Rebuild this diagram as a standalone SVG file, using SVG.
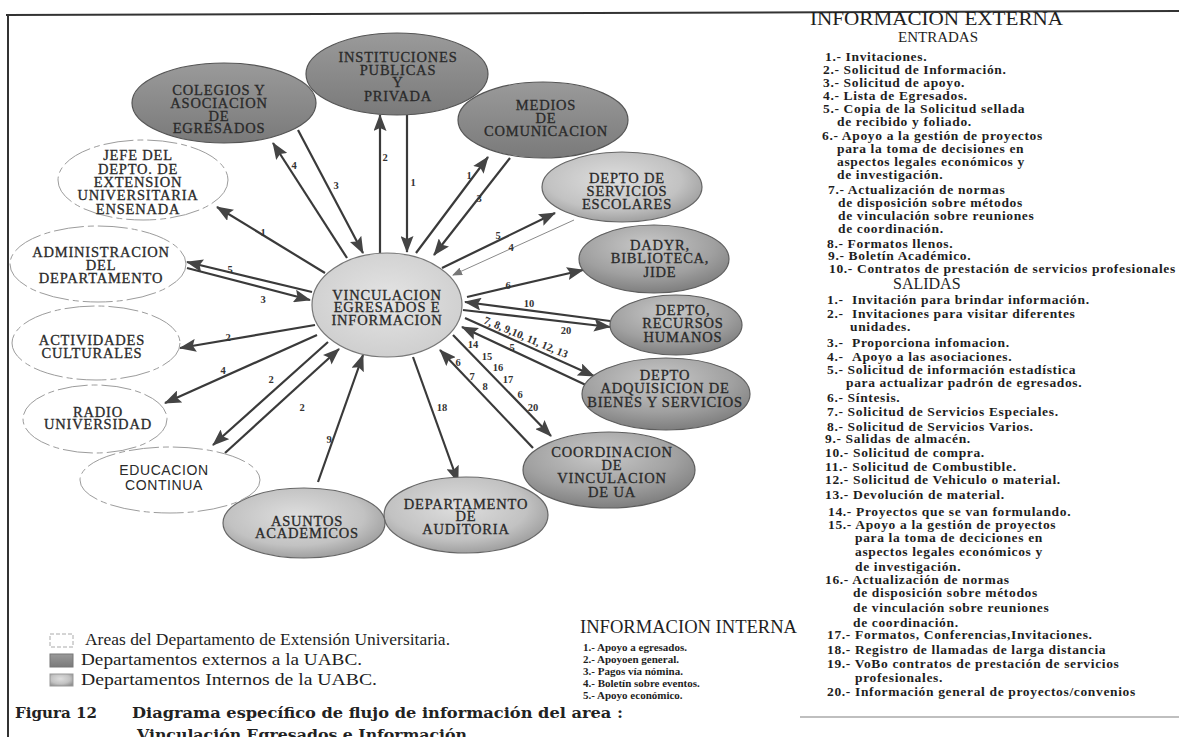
<svg xmlns="http://www.w3.org/2000/svg" width="1179" height="737" viewBox="0 0 1179 737">
  <defs>
    <linearGradient id="gExt" x1="0" y1="0" x2="0" y2="1">
      <stop offset="0" stop-color="#9a9a9a"/>
      <stop offset="1" stop-color="#7a7a7a"/>
    </linearGradient>
    <radialGradient id="gInt" cx="0.45" cy="0.4" r="0.7">
      <stop offset="0" stop-color="#dedede"/>
      <stop offset="0.6" stop-color="#c2c2c2"/>
      <stop offset="1" stop-color="#8e8e8e"/>
    </radialGradient>
    <radialGradient id="gIntD" cx="0.45" cy="0.3" r="0.75">
      <stop offset="0" stop-color="#c8c8c8"/>
      <stop offset="0.6" stop-color="#a0a0a0"/>
      <stop offset="1" stop-color="#787878"/>
    </radialGradient>
    <radialGradient id="gCen" cx="0.5" cy="0.45" r="0.6">
      <stop offset="0" stop-color="#e4e4e4"/>
      <stop offset="1" stop-color="#cdcdcd"/>
    </radialGradient>
    <marker id="ah" viewBox="0 0 17 13" refX="16" refY="6.5" markerWidth="17" markerHeight="13" markerUnits="userSpaceOnUse" orient="auto">
      <path d="M0,0 L17,6.5 L0,13 L3,6.5 z" fill="#444"/>
    </marker>
    <marker id="ahs" viewBox="0 0 10 8" refX="9" refY="4" markerWidth="10" markerHeight="8" markerUnits="userSpaceOnUse" orient="auto">
      <path d="M0,0 L10,4 L0,8 z" fill="#777"/>
    </marker>
    <style>
      .ext { fill: url(#gExt); stroke: #555; stroke-width: 1.2; }
      .int { fill: url(#gInt); stroke: #666; stroke-width: 1.2; }
      .intd { fill: url(#gIntD); stroke: #5e5e5e; stroke-width: 1.2; }
      .cen { fill: url(#gCen); stroke: #777; stroke-width: 1.2; }
      .area { fill: #fff; stroke: #9c9c9c; stroke-width: 1; stroke-dasharray: 30 4 6 4; }
      .nt { font-family: "Liberation Serif", serif; font-size: 14.5px; letter-spacing: 0.8px; fill: #2a2a2a; stroke: #2a2a2a; stroke-width: 0.3; text-anchor: middle; }
      .ns { font-family: "Liberation Sans", sans-serif; font-size: 14px; letter-spacing: 0.6px; fill: #2a2a2a; text-anchor: middle; }
      .c { stroke: #3a3a3a; stroke-width: 2.2; fill: none; marker-end: url(#ah); }
      .cs { stroke: #8a8a8a; stroke-width: 1; fill: none; marker-end: url(#ahs); }
      .lb { font-family: "Liberation Serif", serif; font-size: 10.5px; font-weight: bold; fill: #333; text-anchor: middle; }
      .ri { font-family: "Liberation Serif", serif; font-size: 13.5px; letter-spacing: 0.65px; font-weight: bold; fill: #1e1e1e; }
      .hd { font-family: "Liberation Serif", serif; fill: #1e1e1e; }
      .ii { font-family: "Liberation Serif", serif; font-size: 11px; font-weight: bold; fill: #1e1e1e; }
      .lg { font-family: "Liberation Serif", serif; font-size: 16.5px; fill: #1e1e1e; }
      .cap { font-family: "DejaVu Serif", serif; font-size: 14px; font-weight: bold; fill: #222; }
    </style>
  </defs>

  <rect width="1179" height="737" fill="#fff"/>

  <!-- page frame -->
  <g id="frame" stroke="#333" fill="none">
    <path d="M6,15 L1179,11" stroke-width="2"/>
    <path d="M8,14 V737" stroke-width="2"/>
    <path d="M800,717 H1179" stroke="#aaa" stroke-width="1.5"/>
  </g>

  <!-- connectors -->
  <g id="connectors">
    <line class="c" x1="347" y1="258" x2="273" y2="143"/>
    <line class="c" x1="298" y1="130" x2="363" y2="253"/>
    <line class="c" x1="380" y1="253" x2="380" y2="115"/>
    <line class="c" x1="407" y1="115" x2="407" y2="252"/>
    <line class="c" x1="416" y1="253" x2="488" y2="157"/>
    <line class="c" x1="510" y1="158" x2="434" y2="255"/>
    <line class="c" x1="442" y1="268" x2="555" y2="213"/>
    <line class="cs" x1="574" y1="220" x2="453" y2="275"/>
    <line class="c" x1="467" y1="297" x2="583" y2="270"/>
    <line class="c" x1="610" y1="321" x2="465" y2="302"/>
    <line class="c" x1="463" y1="310" x2="610" y2="327"/>
    <line class="c" x1="465" y1="318" x2="594" y2="376"/>
    <line class="c" x1="588" y1="386" x2="462" y2="327"/>
    <line class="c" x1="453" y1="335" x2="551" y2="436"/>
    <line class="c" x1="533" y1="448" x2="440" y2="350"/>
    <line class="c" x1="413" y1="357" x2="458" y2="482"/>
    <line class="c" x1="318" y1="482" x2="363" y2="355"/>
    <line class="c" x1="328" y1="342" x2="213" y2="445"/>
    <line class="c" x1="225" y1="453" x2="339" y2="349"/>
    <line class="c" x1="317" y1="335" x2="165" y2="403"/>
    <line class="c" x1="315" y1="325" x2="180" y2="348"/>
    <line class="c" x1="312" y1="292" x2="187" y2="262"/>
    <line class="c" x1="187" y1="268" x2="310" y2="300"/>
    <line class="c" x1="325" y1="273" x2="217" y2="207"/>

    <g class="lb">
      <text x="294" y="169">4</text>
      <text x="336" y="189">3</text>
      <text x="385" y="161">2</text>
      <text x="413" y="186">1</text>
      <text x="469" y="179">1</text>
      <text x="479" y="202">3</text>
      <text x="498" y="239">5</text>
      <text x="511" y="251">4</text>
      <text x="508" y="289">6</text>
      <text x="529" y="307">10</text>
      <text x="566" y="334">20</text>
      <text x="512" y="351">5</text>
      <text x="473" y="348">14</text>
      <text x="487" y="360">15</text>
      <text x="498" y="371">16</text>
      <text x="508" y="383">17</text>
      <text x="520" y="398">6</text>
      <text x="533" y="411">20</text>
      <text x="458" y="366">6</text>
      <text x="472" y="380">7</text>
      <text x="485" y="390">8</text>
      <text x="442" y="411">18</text>
      <text x="329" y="443">9</text>
      <text x="271" y="383">2</text>
      <text x="302" y="411">2</text>
      <text x="223" y="374">4</text>
      <text x="228" y="341">2</text>
      <text x="230" y="273">5</text>
      <text x="263" y="303">3</text>
      <text x="263" y="236">1</text>
      <text x="483" y="323" text-anchor="start" font-size="11" transform="rotate(23 483 323)">7, 8, 9,10, 11, 12, 13</text>
    </g>
  </g>

  <!-- external departments -->
  <g id="colegios">
    <ellipse class="ext" cx="224" cy="103" rx="92" ry="40"/>
    <text class="nt"><tspan x="219" y="95">COLEGIOS Y</tspan><tspan x="219" y="108">ASOCIACION</tspan><tspan x="219" y="121">DE</tspan><tspan x="219" y="133">EGRESADOS</tspan></text>
  </g>
  <g id="instituciones">
    <ellipse class="ext" cx="397" cy="74" rx="91" ry="41"/>
    <text class="nt"><tspan x="398" y="62">INSTITUCIONES</tspan><tspan x="398" y="75">PUBLICAS</tspan><tspan x="398" y="87">Y</tspan><tspan x="398" y="101">PRIVADA</tspan></text>
  </g>
  <g id="medios">
    <ellipse class="ext" cx="543" cy="120" rx="85" ry="38"/>
    <text class="nt"><tspan x="546" y="110">MEDIOS</tspan><tspan x="546" y="123">DE</tspan><tspan x="546" y="136">COMUNICACION</tspan></text>
  </g>

  <!-- internal departments -->
  <g id="servicios-escolares">
    <ellipse class="int" cx="622" cy="187" rx="80" ry="35"/>
    <text class="nt"><tspan x="627" y="183">DEPTO DE</tspan><tspan x="627" y="196">SERVICIOS</tspan><tspan x="627" y="209">ESCOLARES</tspan></text>
  </g>
  <g id="dadyr">
    <ellipse class="intd" cx="654" cy="259" rx="75" ry="34"/>
    <text class="nt"><tspan x="660" y="250">DADYR,</tspan><tspan x="660" y="263">BIBLIOTECA,</tspan><tspan x="660" y="277">JIDE</tspan></text>
  </g>
  <g id="recursos-humanos">
    <ellipse class="intd" cx="676" cy="325" rx="66" ry="30"/>
    <text class="nt"><tspan x="683" y="315">DEPTO,</tspan><tspan x="683" y="328">RECURSOS</tspan><tspan x="683" y="342">HUMANOS</tspan></text>
  </g>
  <g id="adquisicion">
    <ellipse class="intd" cx="666" cy="394" rx="84" ry="36"/>
    <text class="nt" letter-spacing="0.3"><tspan x="665" y="380">DEPTO</tspan><tspan x="665" y="393">ADQUISICION DE</tspan><tspan x="665" y="407">BIENES Y SERVICIOS</tspan></text>
  </g>
  <g id="coordinacion">
    <ellipse class="intd" cx="609" cy="470" rx="86" ry="38"/>
    <text class="nt"><tspan x="612" y="457">COORDINACION</tspan><tspan x="612" y="470">DE</tspan><tspan x="612" y="483">VINCULACION</tspan><tspan x="612" y="497">DE UA</tspan></text>
  </g>
  <g id="auditoria">
    <ellipse class="int" cx="466" cy="515" rx="82" ry="38"/>
    <text class="nt" font-size="13"><tspan x="466" y="509">DEPARTAMENTO</tspan><tspan x="466" y="521">DE</tspan><tspan x="466" y="534">AUDITORIA</tspan></text>
  </g>
  <g id="asuntos-academicos">
    <ellipse class="int" cx="304" cy="523" rx="81" ry="35"/>
    <text class="nt" font-size="12.5"><tspan x="307" y="526">ASUNTOS</tspan><tspan x="307" y="538">ACADEMICOS</tspan></text>
  </g>

  <!-- central area -->
  <g id="vinculacion">
    <ellipse class="cen" cx="387" cy="305" rx="75" ry="52"/>
    <text class="nt"><tspan x="387" y="300">VINCULACION</tspan><tspan x="387" y="312">EGRESADOS E</tspan><tspan x="387" y="325">INFORMACION</tspan></text>
  </g>

  <!-- areas of the department -->
  <g id="jefe">
    <ellipse class="area" cx="143" cy="180" rx="85" ry="40"/>
    <text class="nt"><tspan x="138" y="160">JEFE DEL</tspan><tspan x="138" y="174">DEPTO. DE</tspan><tspan x="138" y="187">EXTENSION</tspan><tspan x="138" y="200">UNIVERSITARIA</tspan><tspan x="138" y="214">ENSENADA</tspan></text>
  </g>
  <g id="administracion">
    <ellipse class="area" cx="98" cy="264" rx="88" ry="38"/>
    <text class="nt"><tspan x="101" y="257">ADMINISTRACION</tspan><tspan x="101" y="270">DEL</tspan><tspan x="101" y="283">DEPARTAMENTO</tspan></text>
  </g>
  <g id="actividades">
    <ellipse class="area" cx="96" cy="343" rx="84" ry="37"/>
    <text class="nt"><tspan x="92" y="345">ACTIVIDADES</tspan><tspan x="92" y="358">CULTURALES</tspan></text>
  </g>
  <g id="radio">
    <ellipse class="area" cx="95" cy="419" rx="72" ry="34"/>
    <text class="nt" font-size="12.5"><tspan x="98" y="417">RADIO</tspan><tspan x="98" y="429">UNIVERSIDAD</tspan></text>
  </g>
  <g id="educacion">
    <ellipse class="area" cx="170" cy="480" rx="90" ry="33"/>
    <text class="ns"><tspan x="164" y="475">EDUCACION</tspan><tspan x="164" y="490">CONTINUA</tspan></text>
  </g>

  <!-- legend -->
  <g id="legend">
    <rect x="50" y="634" width="23" height="13" fill="#fff" stroke="#aaa" stroke-dasharray="4 2"/>
    <rect x="50" y="654" width="23" height="13" fill="url(#gExt)" stroke="#777"/>
    <rect x="50" y="674" width="23" height="12" fill="url(#gInt)" stroke="#999"/>
    <text class="lg" x="85" y="645" textLength="365" lengthAdjust="spacingAndGlyphs">Areas del Departamento de Extensión Universitaria.</text>
    <text class="lg" x="81" y="665" textLength="281" lengthAdjust="spacingAndGlyphs">Departamentos externos a la UABC.</text>
    <text class="lg" x="81" y="685" textLength="296" lengthAdjust="spacingAndGlyphs">Departamentos Internos de la UABC.</text>
  </g>

  <!-- internal information list -->
  <g id="info-interna">
    <text class="hd" x="580" y="633" font-size="18" textLength="217" lengthAdjust="spacingAndGlyphs">INFORMACION  INTERNA</text>
    <text class="ii" x="583" y="651">1.- Apoyo a egresados.</text>
    <text class="ii" x="583" y="663">2.- Apoyoen general.</text>
    <text class="ii" x="583" y="675">3.- Pagos vía nómina.</text>
    <text class="ii" x="583" y="687">4.- Boletín sobre eventos.</text>
    <text class="ii" x="583" y="699">5.- Apoyo económico.</text>
  </g>

  <!-- external information list -->
  <g id="info-externa">
    <text class="hd" x="810" y="25" font-size="18" textLength="253" lengthAdjust="spacingAndGlyphs">INFORMACION EXTERNA</text>
    <text class="hd" x="898" y="42" font-size="15">ENTRADAS</text>
    <text class="ri" x="825" y="61">1.- Invitaciones.</text>
    <text class="ri" x="823" y="74">2.- Solicitud de Información.</text>
    <text class="ri" x="823" y="87">3.- Solicitud de apoyo.</text>
    <text class="ri" x="823" y="100">4.- Lista de Egresados.</text>
    <text class="ri" x="823" y="113">5.- Copia de la Solicitud sellada</text>
    <text class="ri" x="837" y="126">de recibido y foliado.</text>
    <text class="ri" x="822" y="140">6.- Apoyo a la gestión de proyectos</text>
    <text class="ri" x="837" y="153">para la toma de decisiones en</text>
    <text class="ri" x="837" y="166">aspectos legales económicos y</text>
    <text class="ri" x="837" y="179">de investigación.</text>
    <text class="ri" x="828" y="194">7.- Actualización de normas</text>
    <text class="ri" x="838" y="207">de disposición sobre métodos</text>
    <text class="ri" x="838" y="220">de vinculación sobre reuniones</text>
    <text class="ri" x="838" y="233">de coordinación.</text>
    <text class="ri" x="827" y="248">8.- Formatos llenos.</text>
    <text class="ri" x="828" y="260">9.- Boletín Académico.</text>
    <text class="ri" x="829" y="273">10.- Contratos de prestación de servicios profesionales</text>
    <text class="hd" x="893" y="289" font-size="16">SALIDAS</text>
    <text class="ri" x="827" y="304">1.-<tspan x="852">Invitación para brindar información.</tspan></text>
    <text class="ri" x="827" y="318">2.-<tspan x="852">Invitaciones para visitar diferentes</tspan></text>
    <text class="ri" x="850" y="331">unidades.</text>
    <text class="ri" x="827" y="347">3.-<tspan x="852">Proporciona infomacion.</tspan></text>
    <text class="ri" x="827" y="361">4.-<tspan x="852">Apoyo a las asociaciones.</tspan></text>
    <text class="ri" x="827" y="374">5.- Solicitud de información estadística</text>
    <text class="ri" x="846" y="387">para actualizar padrón de egresados.</text>
    <text class="ri" x="827" y="402">6.- Síntesis.</text>
    <text class="ri" x="827" y="416">7.- Solicitud de Servicios Especiales.</text>
    <text class="ri" x="827" y="431">8.- Solicitud de Servicios Varios.</text>
    <text class="ri" x="825" y="443">9.- Salidas de almacén.</text>
    <text class="ri" x="825" y="457">10.- Solicitud de compra.</text>
    <text class="ri" x="825" y="471">11.- Solicitud de Combustible.</text>
    <text class="ri" x="825" y="484">12.- Solicitud de Vehiculo o material.</text>
    <text class="ri" x="825" y="499">13.- Devolución de material.</text>
    <text class="ri" x="828" y="516">14.- Proyectos que se van formulando.</text>
    <text class="ri" x="828" y="529">15.- Apoyo a la gestión de proyectos</text>
    <text class="ri" x="855" y="542">para la toma de deciciones en</text>
    <text class="ri" x="855" y="556">aspectos legales económicos y</text>
    <text class="ri" x="855" y="571">de investigación.</text>
    <text class="ri" x="825" y="584">16.- Actualización de normas</text>
    <text class="ri" x="853" y="597">de disposición sobre métodos</text>
    <text class="ri" x="853" y="612">de vinculación sobre reuniones</text>
    <text class="ri" x="853" y="627">de coordinación.</text>
    <text class="ri" x="827" y="639">17.- Formatos, Conferencias,Invitaciones.</text>
    <text class="ri" x="827" y="654">18.- Registro de llamadas de larga distancia</text>
    <text class="ri" x="827" y="668">19.- VoBo contratos de prestación de servicios</text>
    <text class="ri" x="855" y="682">profesionales.</text>
    <text class="ri" x="827" y="696">20.- Información general de proyectos/convenios</text>
  </g>

  <!-- figure caption -->
  <g id="caption">
    <text class="cap" x="15" y="718" textLength="82" lengthAdjust="spacingAndGlyphs">Figura 12</text>
    <text class="cap" x="132" y="718" textLength="491" lengthAdjust="spacingAndGlyphs">Diagrama específico de flujo de información del area :</text>
    <text class="cap" x="137" y="740" textLength="330" lengthAdjust="spacingAndGlyphs">Vinculación Egresados e Información</text>
  </g>
</svg>
